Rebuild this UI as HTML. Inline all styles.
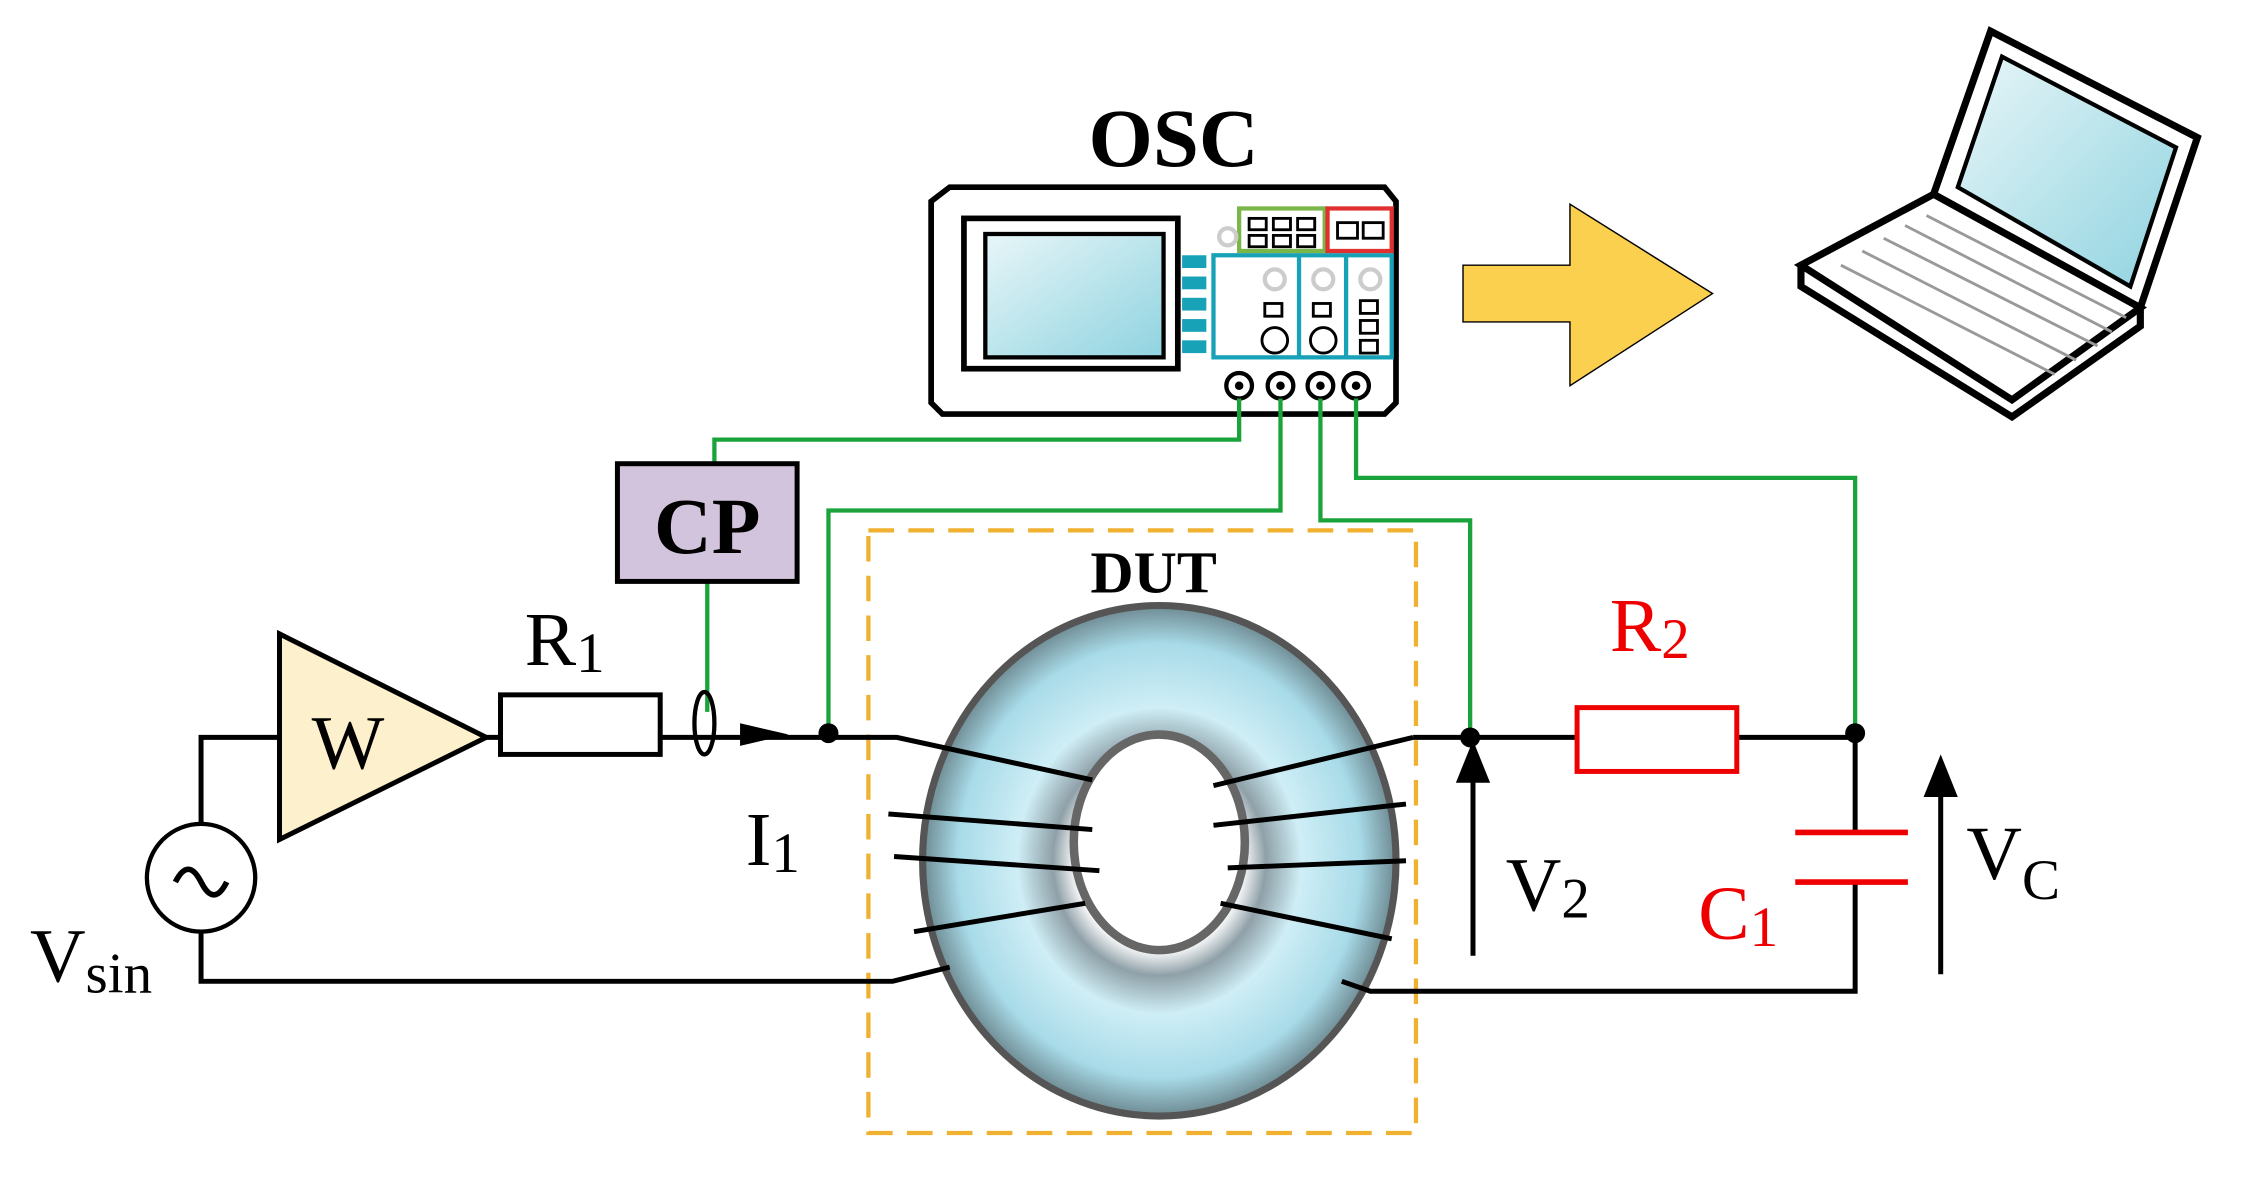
<!DOCTYPE html>
<html><head><meta charset="utf-8"><style>html,body{margin:0;padding:0;background:#fff;overflow:hidden}svg{display:block}</style></head>
<body>
<svg width="2243" height="1177" viewBox="-1 -2 1573 830" preserveAspectRatio="none" xmlns="http://www.w3.org/2000/svg" font-family="Liberation Serif, serif">
<defs>
<radialGradient id="tor" cx="50%" cy="50%" r="50%">
<stop offset="0.35" stop-color="#ffffff"/><stop offset="0.45" stop-color="#8fa0a8"/><stop offset="0.6" stop-color="#cfeef6"/><stop offset="0.85" stop-color="#a8dbe8"/><stop offset="1" stop-color="#6e8a92"/>
</radialGradient>
<linearGradient id="scr" x1="0" y1="0" x2="1" y2="1"><stop offset="0" stop-color="#e8f6f8"/><stop offset="1" stop-color="#8fd3e0"/></linearGradient>
</defs>
<text x="822" y="115" font-size="58" font-weight="bold" text-anchor="middle">OSC</text>
<path d="M665 130 H970 L978 140 V282 L970 290 H660 L652 282 V140 Z" fill="#fff" stroke="#000" stroke-width="4"/>
<rect x="675" y="152" width="150" height="106" fill="#fff" stroke="#000" stroke-width="4"/>
<rect x="690" y="163" width="125" height="87" fill="url(#scr)" stroke="#000" stroke-width="3"/>
<g fill="#17a2b8"><rect x="828" y="178" width="17" height="9"/><rect x="828" y="193" width="17" height="9"/><rect x="828" y="208" width="17" height="9"/><rect x="828" y="223" width="17" height="9"/><rect x="828" y="238" width="17" height="9"/></g>
<rect x="850" y="178" width="125" height="72" fill="none" stroke="#17a2b8" stroke-width="3"/>
<line x1="910" y1="178" x2="910" y2="250" stroke="#17a2b8" stroke-width="3"/><line x1="943" y1="178" x2="943" y2="250" stroke="#17a2b8" stroke-width="3"/>
<rect x="868" y="145" width="60" height="30" fill="none" stroke="#7ab648" stroke-width="3"/>
<rect x="930" y="145" width="45" height="30" fill="none" stroke="#e03030" stroke-width="3"/>
<g fill="none" stroke="#000" stroke-width="2"><rect x="875" y="152" width="12" height="8"/><rect x="892" y="152" width="12" height="8"/><rect x="909" y="152" width="12" height="8"/><rect x="875" y="164" width="12" height="8"/><rect x="892" y="164" width="12" height="8"/><rect x="909" y="164" width="12" height="8"/><rect x="937" y="155" width="14" height="11"/><rect x="955" y="155" width="14" height="11"/>
<rect x="886" y="212" width="12" height="9"/><rect x="920" y="212" width="12" height="9"/><rect x="953" y="210" width="12" height="9"/><rect x="953" y="224" width="12" height="9"/><rect x="953" y="238" width="12" height="9"/>
<circle cx="893" cy="238" r="9"/><circle cx="927" cy="238" r="9"/></g>
<g fill="none" stroke="#ccc" stroke-width="3"><circle cx="860" cy="165" r="6"/><circle cx="893" cy="195" r="7"/><circle cx="927" cy="195" r="7"/><circle cx="960" cy="195" r="7"/></g>
<g stroke="#000" stroke-width="3" fill="#fff"><circle cx="868" cy="270" r="9"/><circle cx="897" cy="270" r="9"/><circle cx="925" cy="270" r="9"/><circle cx="950" cy="270" r="9"/></g>
<g fill="#000"><circle cx="868" cy="270" r="3"/><circle cx="897" cy="270" r="3"/><circle cx="925" cy="270" r="3"/><circle cx="950" cy="270" r="3"/></g>
<polygon points="1025,185 1100,185 1100,142 1200,205 1100,270 1100,225 1025,225" fill="#fcd04f" stroke="#000" stroke-width="1"/>
<polygon points="1355,135 1395,20 1540,95 1500,215" fill="#fff" stroke="#000" stroke-width="5"/>
<polygon points="1372,130 1403,38 1525,102 1493,200" fill="url(#scr)" stroke="#000" stroke-width="3"/>
<polygon points="1262,185 1355,135 1500,215 1410,280" fill="#fff" stroke="#000" stroke-width="5"/>
<path d="M1262,185 L1262,200 L1410,292 L1500,228 L1500,215" fill="none" stroke="#000" stroke-width="5"/>
<g stroke="#999" stroke-width="2"><line x1="1290" y1="185" x2="1440" y2="262"/><line x1="1305" y1="175" x2="1455" y2="252"/><line x1="1320" y1="166" x2="1470" y2="242"/><line x1="1335" y1="157" x2="1480" y2="232"/><line x1="1350" y1="150" x2="1490" y2="222"/></g>
<g fill="none" stroke="#1aa33a" stroke-width="3">
<path d="M868,279 V308 H500 V325"/>
<path d="M495,408 V500"/>
<path d="M897,279 V358 H580 V515"/>
<path d="M925,279 V365 H1030 V518"/>
<path d="M950,279 V335 H1300 V515"/>
</g>
<rect x="432" y="325" width="126" height="83" fill="#d3c4dd" stroke="#000" stroke-width="3.5"/>
<text x="495" y="388" font-size="56" font-weight="bold" text-anchor="middle">CP</text>
<rect x="608" y="372" width="384" height="425" fill="none" stroke="#f0b030" stroke-width="3" stroke-dasharray="18,10"/>
<text x="808" y="416" font-size="42" font-weight="bold" text-anchor="middle">DUT</text>
<ellipse cx="812" cy="605" rx="166" ry="180" fill="url(#tor)" stroke="#555" stroke-width="5"/>
<ellipse cx="812" cy="592" rx="60" ry="76" fill="#fff" stroke="#666" stroke-width="6"/>
<g fill="none" stroke="#000" stroke-width="3.5">
<path d="M140,580 V518 H195"/>
<path d="M140,655 V690 H625 L665,680"/>
<path d="M340,518 H350 M462,518 H580 H628 L765,548"/>
<path d="M622,572 L765,583 M626,602 L770,612 M640,655 L760,635"/>
<path d="M990,518 H1105 M1217,518 H1300 V585 M1300,620 V697 H960 L940,690"/>
<path d="M990,518 L850,552 M850,580 L985,565 M860,610 L985,605 M855,635 L975,660"/>
<circle cx="140" cy="617" r="38" stroke-width="3"/>
<path d="M122,620 q9,-18 18,0 t18,0" stroke-width="4"/>
<ellipse cx="493" cy="508" rx="7" ry="22" stroke-width="3"/>
<path d="M1032,672 V545 M1360,685 V550"/>
</g>
<polygon points="518,508 552,516 518,524" fill="#000"/>
<polygon points="1020,550 1032,520 1044,550" fill="#000"/>
<polygon points="1348,560 1360,530 1372,560" fill="#000"/>
<circle cx="580" cy="515" r="7" fill="#000"/>
<circle cx="1030" cy="518" r="7" fill="#000"/>
<circle cx="1300" cy="515" r="7" fill="#000"/>
<polygon points="195,445 340,518 195,590" fill="#fdf0cc" stroke="#000" stroke-width="3.5"/>
<text x="243" y="540" font-size="54" text-anchor="middle">W</text>
<rect x="350" y="488" width="112" height="42" fill="#fff" stroke="#000" stroke-width="3.5"/>
<rect x="1105" y="497" width="112" height="45" fill="#fff" stroke="#e00" stroke-width="3.5"/>
<line x1="1258" y1="585" x2="1337" y2="585" stroke="#e00" stroke-width="4"/>
<line x1="1258" y1="620" x2="1337" y2="620" stroke="#e00" stroke-width="4"/>
<g font-size="54">
<text x="367" y="467">R<tspan font-size="40" dy="5">1</tspan></text>
<text x="522" y="608">I<tspan font-size="40" dy="5">1</tspan></text>
<text x="20" y="690">V<tspan font-size="40" dy="8">sin</tspan></text>
<text x="1128" y="457" fill="#e00">R<tspan font-size="40" dy="5">2</tspan></text>
<text x="1055" y="640">V<tspan font-size="40" dy="5">2</tspan></text>
<text x="1190" y="660" fill="#e00">C<tspan font-size="40" dy="5">1</tspan></text>
<text x="1378" y="618">V<tspan font-size="40" dy="14">C</tspan></text>
</g>
</svg>
</body></html>
